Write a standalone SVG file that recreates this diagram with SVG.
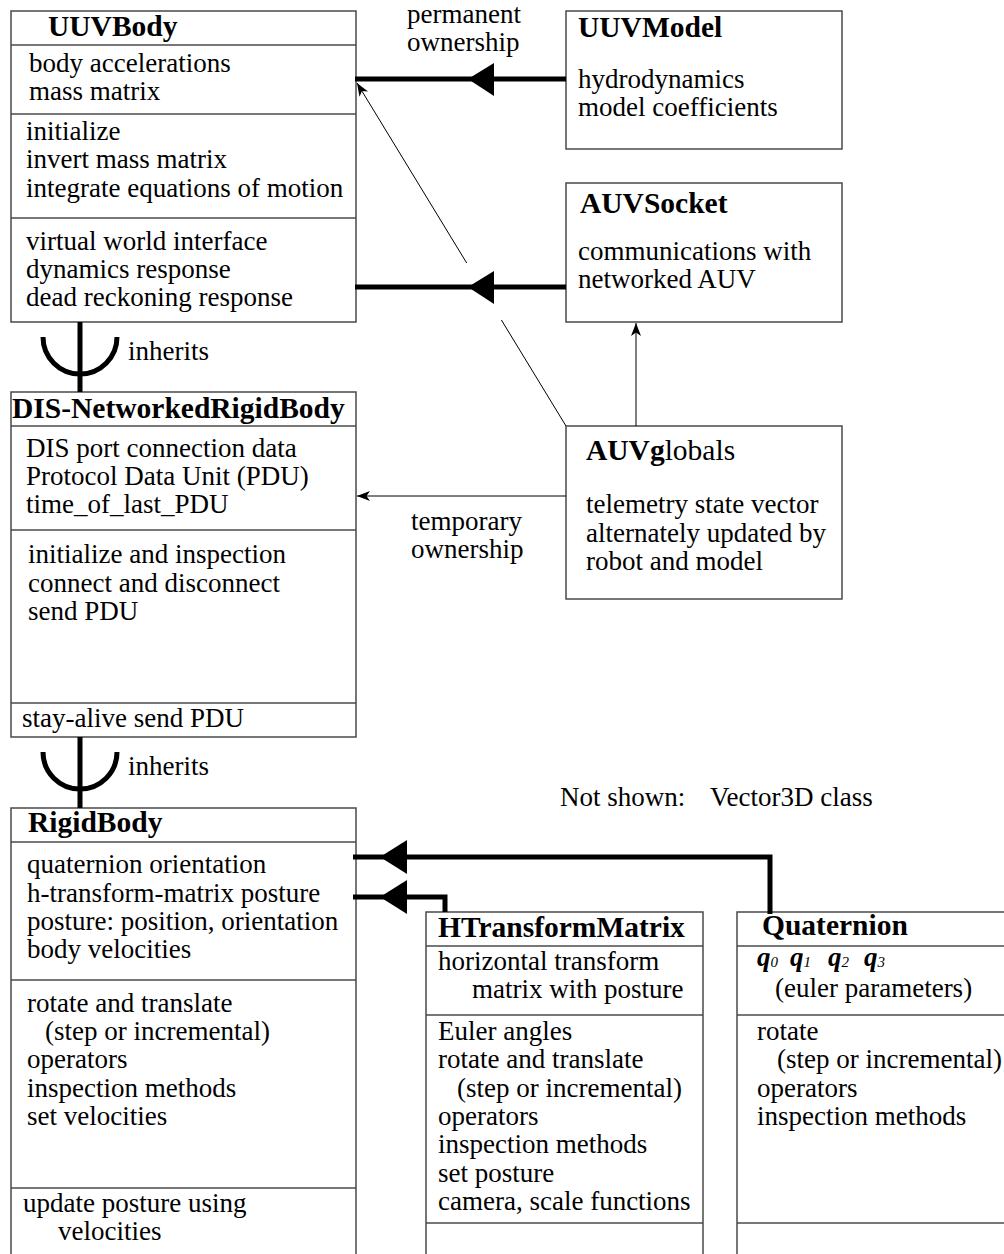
<svg xmlns="http://www.w3.org/2000/svg" width="1004" height="1254" viewBox="0 0 1004 1254">
<style>
  text { font-family: "Liberation Serif", "Times New Roman", serif; font-size: 27px; fill: #000; }
  .title { font-weight: bold; font-size: 29.5px; }
  .box { fill: #fff; stroke: #4a4a4a; stroke-width: 1.5; }
  .sep { stroke: #4a4a4a; stroke-width: 1.5; fill: none; }
  .thick { stroke: #000; stroke-width: 5; fill: none; }
  .thin { stroke: #000; stroke-width: 1; fill: none; }
  .head { fill: #000; stroke: none; }
  .qb { font-weight: bold; font-style: italic; }
  .sub { font-style: italic; font-size: 15px; }
</style>
<defs>
  <marker id="arrow" markerUnits="userSpaceOnUse" markerWidth="16" markerHeight="12" viewBox="-14 -6 16 12" refX="0" refY="0" orient="auto">
    <path d="M0,0 L-13,-5 L-9.5,0 L-13,5 Z" fill="#000"/>
  </marker>
</defs>
<rect width="1004" height="1254" fill="#fff"/>

<g id="UUVBody">
  <rect class="box" x="11" y="11" width="345" height="311"/>
  <line class="sep" x1="11" y1="45" x2="356" y2="45"/>
  <line class="sep" x1="11" y1="114" x2="356" y2="114"/>
  <line class="sep" x1="11" y1="218" x2="356" y2="218"/>
  <text class="title" x="48" y="36">UUVBody</text>
  <text x="29" y="72">body accelerations</text>
  <text x="29" y="100">mass matrix</text>
  <text x="26" y="140">initialize</text>
  <text x="26" y="168">invert mass matrix</text>
  <text x="26" y="197">integrate equations of motion</text>
  <text x="26" y="250">virtual world interface</text>
  <text x="26" y="278">dynamics response</text>
  <text x="26" y="306">dead reckoning response</text>
</g>

<g id="UUVModel">
  <rect class="box" x="566" y="11" width="276" height="138"/>
  <text class="title" x="578" y="37">UUVModel</text>
  <text x="578" y="88">hydrodynamics</text>
  <text x="578" y="116">model coefficients</text>
</g>

<g id="AUVSocket">
  <rect class="box" x="566" y="183" width="276" height="139"/>
  <text class="title" x="580" y="213">AUVSocket</text>
  <text x="578" y="260">communications with</text>
  <text x="578" y="288">networked AUV</text>
</g>

<g id="AUVglobals">
  <rect class="box" x="566" y="426" width="276" height="173"/>
  <text x="586" y="460"><tspan class="title">AUVg</tspan><tspan font-size="29.5">lobals</tspan></text>
  <text x="586" y="513">telemetry state vector</text>
  <text x="586" y="542">alternately updated by</text>
  <text x="586" y="570">robot and model</text>
</g>

<g id="DIS-NetworkedRigidBody">
  <rect class="box" x="11" y="392" width="345" height="345"/>
  <line class="sep" x1="11" y1="426" x2="356" y2="426"/>
  <line class="sep" x1="11" y1="530" x2="356" y2="530"/>
  <line class="sep" x1="11" y1="703" x2="356" y2="703"/>
  <text class="title" x="12" y="418" font-size="30">DIS-NetworkedRigidBody</text>
  <text x="26" y="457">DIS port connection data</text>
  <text x="26" y="485">Protocol Data Unit (PDU)</text>
  <text x="26" y="513">time_of_last_PDU</text>
  <text x="28" y="563">initialize and inspection</text>
  <text x="28" y="592">connect and disconnect</text>
  <text x="28" y="620">send PDU</text>
  <text x="22" y="727">stay-alive send PDU</text>
</g>

<g id="RigidBody">
  <rect class="box" x="11" y="808" width="345" height="460"/>
  <line class="sep" x1="11" y1="842" x2="356" y2="842"/>
  <line class="sep" x1="11" y1="980" x2="356" y2="980"/>
  <line class="sep" x1="11" y1="1188" x2="356" y2="1188"/>
  <text class="title" x="28" y="832">RigidBody</text>
  <text x="27" y="873">quaternion orientation</text>
  <text x="27" y="902">h-transform-matrix posture</text>
  <text x="27" y="930">posture: position, orientation</text>
  <text x="27" y="958">body velocities</text>
  <text x="27" y="1012">rotate and translate</text>
  <text x="45" y="1040">(step or incremental)</text>
  <text x="27" y="1068">operators</text>
  <text x="27" y="1097">inspection methods</text>
  <text x="27" y="1125">set velocities</text>
  <text x="23" y="1212">update posture using</text>
  <text x="58" y="1240">velocities</text>
</g>

<g id="HTransformMatrix">
  <rect class="box" x="426" y="912" width="277" height="360"/>
  <line class="sep" x1="426" y1="946" x2="703" y2="946"/>
  <line class="sep" x1="426" y1="1015" x2="703" y2="1015"/>
  <line class="sep" x1="426" y1="1223" x2="703" y2="1223"/>
  <text class="title" x="438" y="937">HTransformMatrix</text>
  <text x="438" y="970">horizontal transform</text>
  <text x="472" y="998">matrix with posture</text>
  <text x="438" y="1040">Euler angles</text>
  <text x="438" y="1068">rotate and translate</text>
  <text x="457" y="1097">(step or incremental)</text>
  <text x="438" y="1125">operators</text>
  <text x="438" y="1153">inspection methods</text>
  <text x="438" y="1182">set posture</text>
  <text x="438" y="1210">camera, scale functions</text>
</g>

<g id="Quaternion">
  <rect class="box" x="737" y="912" width="300" height="360"/>
  <line class="sep" x1="737" y1="946" x2="1004" y2="946"/>
  <line class="sep" x1="737" y1="1015" x2="1004" y2="1015"/>
  <line class="sep" x1="737" y1="1223" x2="1004" y2="1223"/>
  <text class="title" x="762" y="935">Quaternion</text>
  <text x="757" y="966"><tspan class="qb">q</tspan><tspan class="sub" dy="1">0</tspan></text>
  <text x="790" y="966"><tspan class="qb">q</tspan><tspan class="sub" dy="1">1</tspan></text>
  <text x="828" y="966"><tspan class="qb">q</tspan><tspan class="sub" dy="1">2</tspan></text>
  <text x="864" y="966"><tspan class="qb">q</tspan><tspan class="sub" dy="1">3</tspan></text>
  <text x="775" y="997">(euler parameters)</text>
  <text x="757" y="1040">rotate</text>
  <text x="777" y="1068">(step or incremental)</text>
  <text x="757" y="1097">operators</text>
  <text x="757" y="1125">inspection methods</text>
</g>

<g id="labels">
  <text x="407" y="23">permanent</text>
  <text x="407" y="51">ownership</text>
  <text x="411" y="530">temporary</text>
  <text x="411" y="558">ownership</text>
  <text x="128" y="360">inherits</text>
  <text x="128" y="775">inherits</text>
  <text x="560" y="806">Not shown:</text>
  <text x="710" y="806">Vector3D class</text>
</g>

<g id="connectors">
  <!-- permanent ownership: UUVModel -> UUVBody -->
  <line class="thick" x1="355" y1="79" x2="566" y2="79"/>
  <polygon class="head" points="468,79 494,63 494,96"/>
  <!-- AUVSocket -> UUVBody -->
  <line class="thick" x1="355" y1="287" x2="566" y2="287"/>
  <polygon class="head" points="468,287 494,271 494,304"/>
  <!-- AUVglobals -> UUVBody (thin, with line jump) -->
  <line class="thin" x1="566" y1="426" x2="501.4" y2="320"/>
  <line class="thin" x1="466.7" y1="263" x2="357" y2="83" marker-end="url(#arrow)"/>
  <!-- AUVglobals -> AUVSocket -->
  <line class="thin" x1="636" y1="426" x2="636" y2="323" marker-end="url(#arrow)"/>
  <!-- temporary ownership: AUVglobals -> DIS -->
  <line class="thin" x1="566" y1="496" x2="357" y2="496" marker-end="url(#arrow)"/>
  <!-- inherits 1 -->
  <line class="thick" x1="80" y1="322" x2="80" y2="392"/>
  <path class="thick" d="M 43 337 A 37 37 0 0 0 117 337"/>
  <!-- inherits 2 -->
  <line class="thick" x1="80" y1="737" x2="80" y2="808"/>
  <path class="thick" d="M 43 752 A 37 37 0 0 0 117 752"/>
  <!-- Quaternion -> RigidBody -->
  <path class="thick" d="M 353 857 H 770 V 914"/>
  <polygon class="head" points="380,857 407,840 407,874"/>
  <!-- HTransformMatrix -> RigidBody -->
  <path class="thick" d="M 353 897 H 445 V 912"/>
  <polygon class="head" points="380,897 407,880 407,914"/>
</g>
</svg>
